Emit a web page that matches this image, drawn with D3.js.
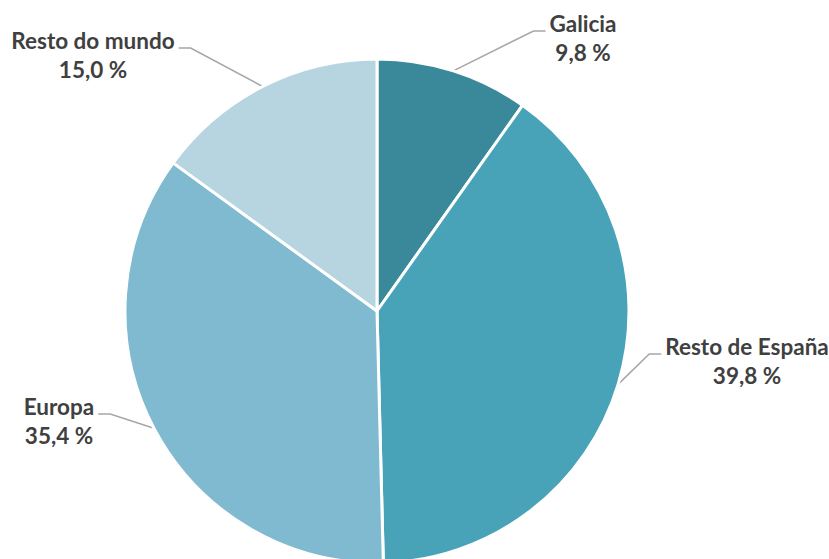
<!DOCTYPE html>
<html>
<head>
<meta charset="utf-8">
<script src="https://cdn.jsdelivr.net/npm/d3@7"></script>
<style>
  html, body { margin: 0; padding: 0; background: #ffffff; }
  svg { display: block; }
  .lbl { font-family: Lato, "Open Sans", sans-serif; font-weight: 700; font-size: 22.5px; fill: #404040; }
</style>
</head>
<body>
<svg id="chart" width="829" height="559"></svg>
<script>
// Share of the total by origin
const categories = ["Galicia", "Resto de España", "Europa", "Resto do mundo"];
const values = [9.8, 39.8, 35.4, 15.0];
const valueLabels = ["9,8 %", "39,8 %", "35,4 %", "15,0 %"];
const colors = ["#3a899b", "#48a3b9", "#7fbad0", "#b7d5e0"];

// Label placement: text centre, first baseline, side the leader enters from
const labelLayout = [
  { x: 583, y: 32, side: "left" },
  { x: 747, y: 355, side: "left" },
  { x: 59, y: 415, side: "right" },
  { x: 93, y: 49, side: "right" }
];

const W = 829, H = 559;
const cx = 377, cy = 311, R = 252;

const svg = d3.select("#chart");
const g = svg.append("g").attr("transform", `translate(${cx},${cy})`);

const pie = d3.pie().sort(null).value(d => d.value);
const arcs = pie(categories.map((c, i) => ({ name: c, value: values[i], label: valueLabels[i], color: colors[i] })));
const arc = d3.arc().innerRadius(0).outerRadius(R);

g.selectAll("path.slice")
  .data(arcs)
  .join("path")
  .attr("class", "slice")
  .attr("d", arc)
  .attr("fill", d => d.data.color)
  .attr("stroke", "#ffffff")
  .attr("stroke-width", 3)
  .attr("stroke-linejoin", "round");

// Text labels
const labels = svg.append("g");
arcs.forEach((a, i) => {
  const L = labelLayout[i];
  const t = labels.append("text")
    .attr("class", "lbl")
    .attr("text-anchor", "middle")
    .attr("x", L.x).attr("y", L.y);
  t.append("tspan").attr("x", L.x).attr("dy", 0).text(a.data.name);
  t.append("tspan").attr("x", L.x).attr("dy", 28.5).text(a.data.label);

  // Leader line: from the slice edge at its mid angle to the label's first line
  const w = t.node().firstChild.getComputedTextLength();
  const mid = (a.startAngle + a.endAngle) / 2;
  const sx = cx + R * Math.sin(mid), sy = cy - R * Math.cos(mid);
  const ly = L.y - 1;
  const ex = L.side === "left" ? L.x - w / 2 - 4 : L.x + w / 2 + 4;
  const kx = L.side === "left" ? ex - 12 : ex + 12;
  svg.insert("path", "g")
    .attr("d", d3.line()([[sx, sy], [kx, ly], [ex, ly]]))
    .attr("fill", "none")
    .attr("stroke", "#a6a6a6")
    .attr("stroke-width", 1.5);
});
</script>
</body>
</html>
